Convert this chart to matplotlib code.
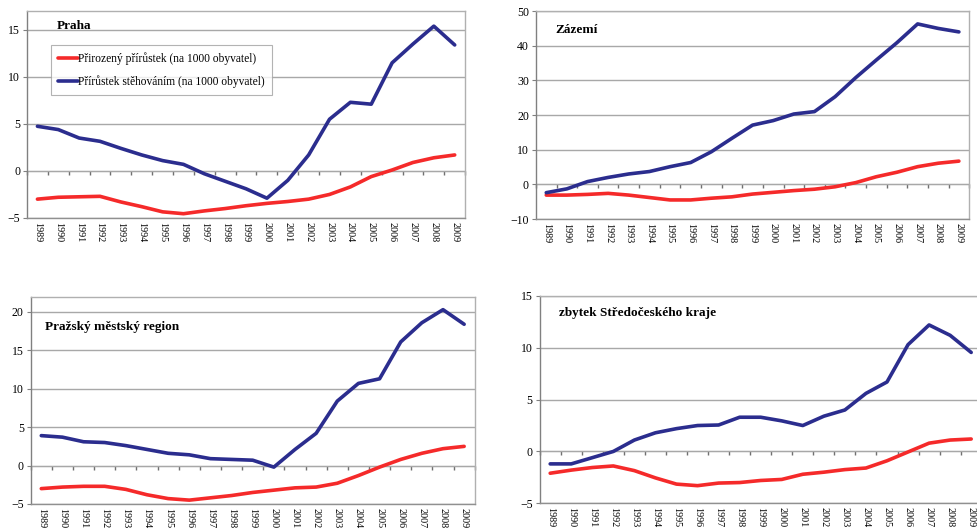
import matplotlib.pyplot as plt
from matplotlib.ticker import MultipleLocator

years = [str(y) for y in range(1989, 2010)]

# Praha
praha_prir = [-3.0, -2.8, -2.75, -2.7, -3.3, -3.8, -4.35, -4.55, -4.25, -4.0, -3.7,
              -3.45, -3.25, -3.0, -2.5, -1.7, -0.6, 0.1, 0.9, 1.4, 1.7]
praha_steh = [4.75, 4.4, 3.5, 3.15, 2.4, 1.7, 1.1, 0.7, -0.3, -1.1, -1.9,
              -2.9, -1.0, 1.7, 5.5, 7.3, 7.1, 11.5, 13.5, 15.4, 13.4]

# Zázemí
zazemi_prir = [-3.1, -3.1, -2.9, -2.6, -3.1, -3.8, -4.5, -4.5, -4.0, -3.6, -2.8,
               -2.3, -1.8, -1.4, -0.7, 0.5, 2.2, 3.5, 5.1, 6.1, 6.7]
zazemi_steh = [-2.4, -1.3, 0.8, 2.0, 3.0, 3.7, 5.1, 6.3, 9.4, 13.3, 17.1,
               18.4, 20.3, 21.0, 25.3, 30.8, 35.9, 40.9, 46.3, 45.0, 44.0]

# Pražský městský region
pmr_prir = [-3.0, -2.8, -2.7, -2.7, -3.1, -3.8, -4.3, -4.5, -4.2, -3.9, -3.5,
            -3.2, -2.9, -2.8, -2.3, -1.3, -0.2, 0.8, 1.6, 2.2, 2.5]
pmr_steh = [3.9, 3.7, 3.1, 3.0, 2.6, 2.1, 1.6, 1.4, 0.9, 0.8, 0.7,
            -0.2, 2.1, 4.2, 8.4, 10.7, 11.3, 16.1, 18.6, 20.3, 18.4]

# zbytek Středočeského kraje
zbytek_prir = [-2.1, -1.8, -1.55, -1.4, -1.85, -2.55, -3.15, -3.3, -3.05, -3.0, -2.8,
               -2.7, -2.2, -2.0, -1.75, -1.6, -0.9, -0.05, 0.8, 1.1, 1.2]
zbytek_steh = [-1.2, -1.2, -0.6, 0.0, 1.1, 1.8, 2.2, 2.5, 2.55, 3.3, 3.3,
               2.95, 2.5, 3.4, 4.0, 5.6, 6.7, 10.3, 12.2, 11.2, 9.55]

label_prir = 'Přirozený přírůstek (na 1000 obyvatel)'
label_steh = 'Přírůstek stěhováním (na 1000 obyvatel)'

RED = '#f52a2a'
BLUE = '#2b2d8e'
SERIF = 'Liberation Serif'

plt.rcParams['font.family'] = SERIF

fig = plt.figure(figsize=(9.78, 5.29), dpi=100)

panels = [
    # rect, title, prir, steh, ylim, step, title pos
    ([0.0276, 0.588, 0.448, 0.391], 'Praha', praha_prir, praha_steh, (-5, 17), 5, (0.068, 0.93)),
    ([0.548, 0.586, 0.443, 0.393], 'Zázemí', zazemi_prir, zazemi_steh, (-10, 50), 10, (0.045, 0.91)),
    ([0.0314, 0.0473, 0.454, 0.392], 'Pražský městský region', pmr_prir, pmr_steh, (-5, 22), 5, (0.032, 0.855)),
    ([0.5518, 0.0486, 0.452, 0.392], 'zbytek Středočeského kraje', zbytek_prir, zbytek_steh, (-5, 15), 5, (0.044, 0.917)),
]

for i, (rect, title, prir, steh, ylim, step, tpos) in enumerate(panels):
    ax = fig.add_axes(rect)
    x = range(len(years))
    l1, = ax.plot(x, prir, color=RED, lw=2.6, label=label_prir, solid_capstyle='round')
    l2, = ax.plot(x, steh, color=BLUE, lw=2.6, label=label_steh, solid_capstyle='round')
    ax.set_xlim(-0.5, len(years) - 0.5)
    ax.set_ylim(*ylim)
    ax.yaxis.set_major_locator(MultipleLocator(step))
    ax.grid(axis='y', color='#a8a8a8', lw=1.0)
    ax.set_axisbelow(True)
    ax.set_xticks(list(x))
    ax.set_xticklabels(years, rotation=270, fontsize=7.3)
    ax.tick_params(axis='x', length=0, pad=3)
    ax.tick_params(axis='y', labelsize=8.5, length=3, color='#808080', pad=2)
    for s in ax.spines.values():
        s.set_color('#b0b0b0')
        s.set_linewidth(1.0)
    ax.spines['left'].set_color('#808080')
    ax.spines['bottom'].set_color('#909090')
    # category axis crossing at zero with boundary ticks
    zero_loc = (0 - ylim[0]) / (ylim[1] - ylim[0])
    sec = ax.secondary_xaxis(zero_loc)
    sec.set_xticks([k - 0.5 for k in range(len(years) + 1)])
    sec.tick_params(length=3, width=1, color='#707070', labelbottom=False, direction='out')
    sec.spines['bottom'].set_color('#909090')
    ax.text(tpos[0], tpos[1], title, transform=ax.transAxes, fontsize=9.5,
            fontweight='bold', ha='left', va='center')
    if i == 0:
        leg = ax.legend(handles=[l1, l2], loc='upper left', bbox_to_anchor=(0.055, 0.836),
                        fontsize=8.3, frameon=True, fancybox=False, handlelength=1.7,
                        handletextpad=0.05, borderpad=0.6, labelspacing=0.95,
                        borderaxespad=0)
        leg.get_frame().set_edgecolor('#a0a0a0')
        leg.get_frame().set_linewidth(0.8)

plt.savefig('out.png', dpi=100)
